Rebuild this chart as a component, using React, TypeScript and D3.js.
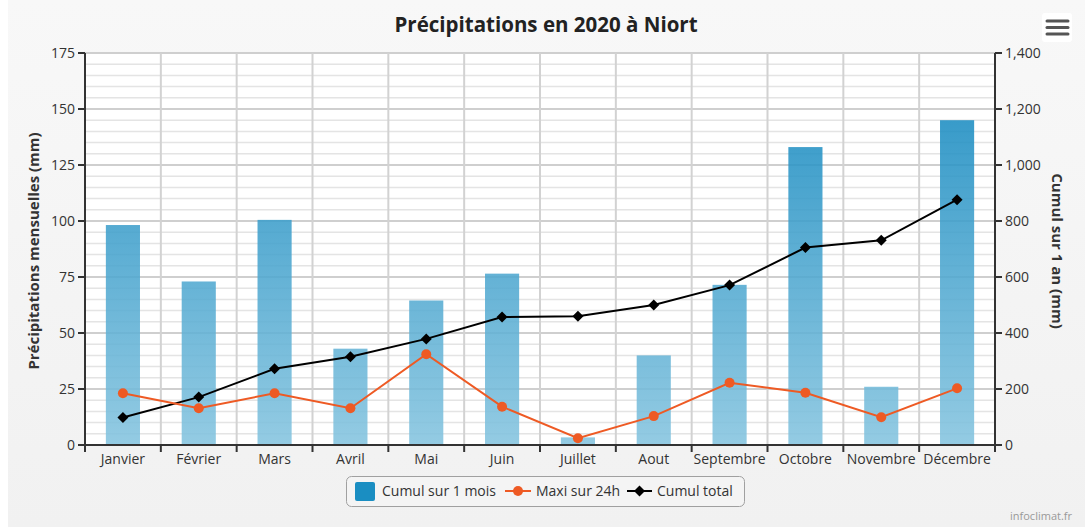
import React from "react";
import * as d3 from "d3";

const months = ["Janvier", "Février", "Mars", "Avril", "Mai", "Juin", "Juillet", "Aout", "Septembre", "Octobre", "Novembre", "Décembre"];
const cumulMois = [98.2, 73, 100.5, 43, 64.5, 76.5, 3.4, 40, 71.5, 133, 26, 145];
const maxi24h = [23.1, 16.4, 23.1, 16.4, 40.5, 17.1, 3.0, 12.9, 27.8, 23.3, 12.4, 25.3];
const cumulTotal = [98, 171, 272, 315, 379, 457, 460, 500, 571, 705, 731, 876];
const leftTicks = [0, 25, 50, 75, 100, 125, 150, 175];
const rightTicks = [0, 200, 400, 600, 800, 1000, 1200, 1400];

const W = 1085;
const H = 527;
const M = { left: 85, right: 995, top: 53, bottom: 445 };
const FONT = "'Open Sans', 'DejaVu Sans', sans-serif";

export default function App() {
  const x = d3.scaleBand<string>().domain(months).range([M.left, M.right]).paddingInner(0).paddingOuter(0);
  const yL = d3.scaleLinear().domain([0, 175]).range([M.bottom, M.top]);
  const yR = d3.scaleLinear().domain([0, 1400]).range([M.bottom, M.top]);
  const bw = x.bandwidth() * 0.45;
  const cx = (m: string) => (x(m) as number) + x.bandwidth() / 2;

  const minorTicks = d3.range(0, 176, 5).filter((v) => v % 25 !== 0);
  const lineL = d3.line<number>().x((_, i) => cx(months[i])).y((d) => yL(d));
  const lineR = d3.line<number>().x((_, i) => cx(months[i])).y((d) => yR(d));
  const diamond = (px: number, py: number, r: number) => `M${px},${py - r}L${px + r},${py}L${px},${py + r}L${px - r},${py}Z`;

  const orange = "#ee5a24";
  const blue = "#1a8ec2";

  return (
    <svg width={W} height={H} style={{ position: "absolute", left: 0, top: 0, display: "block" }} fontFamily={FONT}>
      <defs>
        <linearGradient id="bg" x1="0" y1="0" x2="0" y2="1">
          <stop offset="0" stopColor="#f8f8f8" />
          <stop offset="1" stopColor="#f1f1f1" />
        </linearGradient>
        <linearGradient id="barGrad" gradientUnits="userSpaceOnUse" x1="0" y1={M.top} x2="0" y2={M.bottom}>
          <stop offset="0" stopColor="#0782bc" />
          <stop offset="1" stopColor="#85c4df" />
        </linearGradient>
      </defs>
      <rect x={0} y={0} width={W} height={H} fill="#ffffff" />
      <rect x={8} y={0} width={W - 8} height={H} fill="url(#bg)" />
      <rect x={M.left} y={M.top} width={M.right - M.left} height={M.bottom - M.top} fill="#ffffff" />

      {/* minor grid */}
      {minorTicks.map((v) => (
        <line key={"mn" + v} x1={M.left} x2={M.right} y1={yL(v)} y2={yL(v)} stroke="#e4e4e4" strokeWidth={1.5} />
      ))}
      {/* major grid */}
      {leftTicks.map((v) => (
        <line key={"mj" + v} x1={M.left} x2={M.right} y1={yL(v)} y2={yL(v)} stroke="#cfcfcf" strokeWidth={2} />
      ))}
      {/* vertical category grid */}
      {months.slice(1).map((m) => (
        <line key={"vg" + m} x1={x(m)} x2={x(m)} y1={M.top} y2={M.bottom} stroke="#d2d2d2" strokeWidth={2} />
      ))}

      {/* bars */}
      {cumulMois.map((v, i) => (
        <rect
          key={"b" + i}
          x={cx(months[i]) - bw / 2}
          y={yL(v)}
          width={bw}
          height={M.bottom - yL(v)}
          fill="url(#barGrad)"
          fillOpacity={0.88}
        />
      ))}

      {/* cumul total line */}
      <path d={lineR(cumulTotal) as string} fill="none" stroke="#000" strokeWidth={2} />
      {cumulTotal.map((v, i) => (
        <path key={"d" + i} d={diamond(cx(months[i]), yR(v), 5.5)} fill="#000" />
      ))}

      {/* maxi 24h line */}
      <path d={lineL(maxi24h) as string} fill="none" stroke={orange} strokeWidth={2} />
      {maxi24h.map((v, i) => (
        <circle key={"c" + i} cx={cx(months[i])} cy={yL(v)} r={5} fill={orange} />
      ))}

      {/* axes */}
      <line x1={M.left} x2={M.left} y1={M.top} y2={M.bottom + 1} stroke="#333" strokeWidth={2} />
      <line x1={M.right} x2={M.right} y1={M.top} y2={M.bottom + 1} stroke="#333" strokeWidth={2} />
      <line x1={M.left} x2={M.right} y1={M.bottom} y2={M.bottom} stroke="#333" strokeWidth={2} />
      {leftTicks.map((v) => (
        <g key={"lt" + v}>
          <line x1={M.left - 7} x2={M.left} y1={yL(v)} y2={yL(v)} stroke="#333" strokeWidth={2} />
          <text x={M.left - 10} y={yL(v)} dy="0.35em" textAnchor="end" fontSize={14} fill="#333">
            {v}
          </text>
        </g>
      ))}
      {rightTicks.map((v) => (
        <g key={"rt" + v}>
          <line x1={M.right} x2={M.right + 7} y1={yR(v)} y2={yR(v)} stroke="#333" strokeWidth={2} />
          <text x={M.right + 10} y={yR(v)} dy="0.35em" textAnchor="start" fontSize={14} fill="#333">
            {d3.format(",")(v)}
          </text>
        </g>
      ))}
      {months.map((m, i) => (
        <g key={"xt" + m}>
          {i > 0 && <line x1={x(m)} x2={x(m)} y1={M.bottom} y2={M.bottom + 7} stroke="#333" strokeWidth={2} />}
          <text x={cx(m)} y={M.bottom + 19} textAnchor="middle" fontSize={14} fill="#333">
            {m}
          </text>
        </g>
      ))}
      <line x1={M.left} x2={M.left} y1={M.bottom} y2={M.bottom + 7} stroke="#333" strokeWidth={2} />
      <line x1={M.right} x2={M.right} y1={M.bottom} y2={M.bottom + 7} stroke="#333" strokeWidth={2} />

      {/* title */}
      <text x={546} y={32} textAnchor="middle" fontSize={20.5} fontWeight="bold" fill="#222">
        Précipitations en 2020 à Niort
      </text>

      {/* axis titles */}
      <text transform={`translate(39,${(M.top + M.bottom) / 2 + 2}) rotate(-90)`} textAnchor="middle" fontSize={15} fontWeight="bold" fill="#333">
        Précipitations mensuelles (mm)
      </text>
      <text transform={`translate(1052,${(M.top + M.bottom) / 2 + 2}) rotate(90)`} textAnchor="middle" fontSize={15} fontWeight="bold" fill="#333">
        Cumul sur 1 an (mm)
      </text>

      {/* menu icon */}
      <rect x={1042} y={13} width={30} height={29} rx={3} fill="#ffffff" />
      {[21, 27.5, 34].map((yy) => (
        <line key={"h" + yy} x1={1047} x2={1068} y1={yy} y2={yy} stroke="#555" strokeWidth={3} strokeLinecap="round" />
      ))}

      {/* legend */}
      <rect x={346.5} y={476.5} width={398} height={30} rx={5} fill="#f4f4f4" stroke="#a0a0a0" strokeWidth={1} />
      <rect x={355} y={482} width={20} height={19} rx={2} fill={blue} />
      <text x={382} y={496} fontSize={14} fill="#333">Cumul sur 1 mois</text>
      <line x1={505} x2={531} y1={491} y2={491} stroke={orange} strokeWidth={2} />
      <circle cx={518} cy={491} r={5} fill={orange} />
      <text x={536} y={496} fontSize={14} fill="#333">Maxi sur 24h</text>
      <line x1={627} x2={652} y1={491} y2={491} stroke="#000" strokeWidth={2} />
      <path d={diamond(639.5, 491, 5.5)} fill="#000" />
      <text x={657} y={496} fontSize={14} fill="#333">Cumul total</text>

      {/* credits */}
      <text x={1072} y={520} textAnchor="end" fontSize={11} fill="#999">infoclimat.fr</text>
    </svg>
  );
}
